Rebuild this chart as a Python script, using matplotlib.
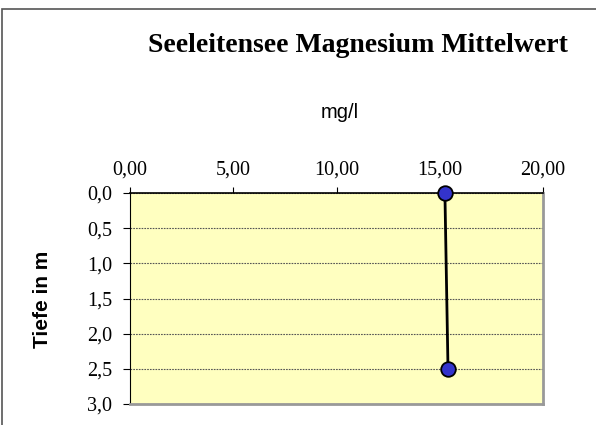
import matplotlib
matplotlib.use("Agg")
import matplotlib.pyplot as plt
from matplotlib.patches import Rectangle
from matplotlib.ticker import FuncFormatter

# Werte aus dem Diagramm
tiefe = [0.0, 2.5]
magnesium = [15.25, 15.4]
x_ticks = [0, 5, 10, 15, 20]
y_ticks = [0.0, 0.5, 1.0, 1.5, 2.0, 2.5, 3.0]

fig = plt.figure(figsize=(5.96, 4.25), dpi=100)
fig.patches.append(Rectangle((2 / 596, -0.5), 1.5, 1.5 - 9 / 425, transform=fig.transFigure,
                             fill=False, edgecolor="#555555", linewidth=1.2))

ax = fig.add_axes([130 / 596, 1 - 404 / 425, 413 / 596, 211 / 425])
ax.set_facecolor("#FFFFC0")

ax.plot(magnesium, tiefe, color="black", linewidth=2, marker="o", markersize=10.5,
        markerfacecolor="#3333CC", markeredgecolor="black", markeredgewidth=1.3,
        clip_on=False, zorder=5)

ax.set_xlim(0, 20)
ax.set_ylim(3.0, 0.0)
ax.set_xticks(x_ticks)
ax.set_yticks(y_ticks)
ax.xaxis.tick_top()
ax.xaxis.set_major_formatter(FuncFormatter(lambda v, p: f"{v:.2f}".replace(".", ",")))
ax.yaxis.set_major_formatter(FuncFormatter(lambda v, p: f"{v:.1f}".replace(".", ",")))
ax.tick_params(axis="x", direction="out", length=4, pad=6, labelsize=14.5)
ax.tick_params(axis="y", direction="out", length=5, pad=8, labelsize=14.5)
for lab in ax.get_xticklabels() + ax.get_yticklabels():
    lab.set_fontfamily("Liberation Serif")

ax.grid(axis="y", linestyle=(0, (1.5, 1)), color="#555555", linewidth=0.8)
ax.set_axisbelow(True)

ax.spines["left"].set_color("black")
ax.spines["top"].set_color("black")
ax.spines["top"].set_linewidth(1.2)
for s in ["right", "bottom"]:
    ax.spines[s].set_color("#999999")
    ax.spines[s].set_linewidth(2)

fig.text(0.600, 1 - 46 / 425, "Seeleitensee Magnesium Mittelwert", ha="center", va="center",
         fontsize=20, fontweight="bold", fontfamily="Liberation Serif")
fig.text(0.570, 1 - 112 / 425, "mg/l", ha="center", va="center",
         fontsize=14.5, fontfamily="Liberation Sans")
fig.text(43 / 596, 1 - 299 / 425, "Tiefe in m", ha="center", va="center", rotation=90,
         fontsize=15, fontweight="bold", fontfamily="Liberation Sans")

fig.savefig("out.png", dpi=100)
